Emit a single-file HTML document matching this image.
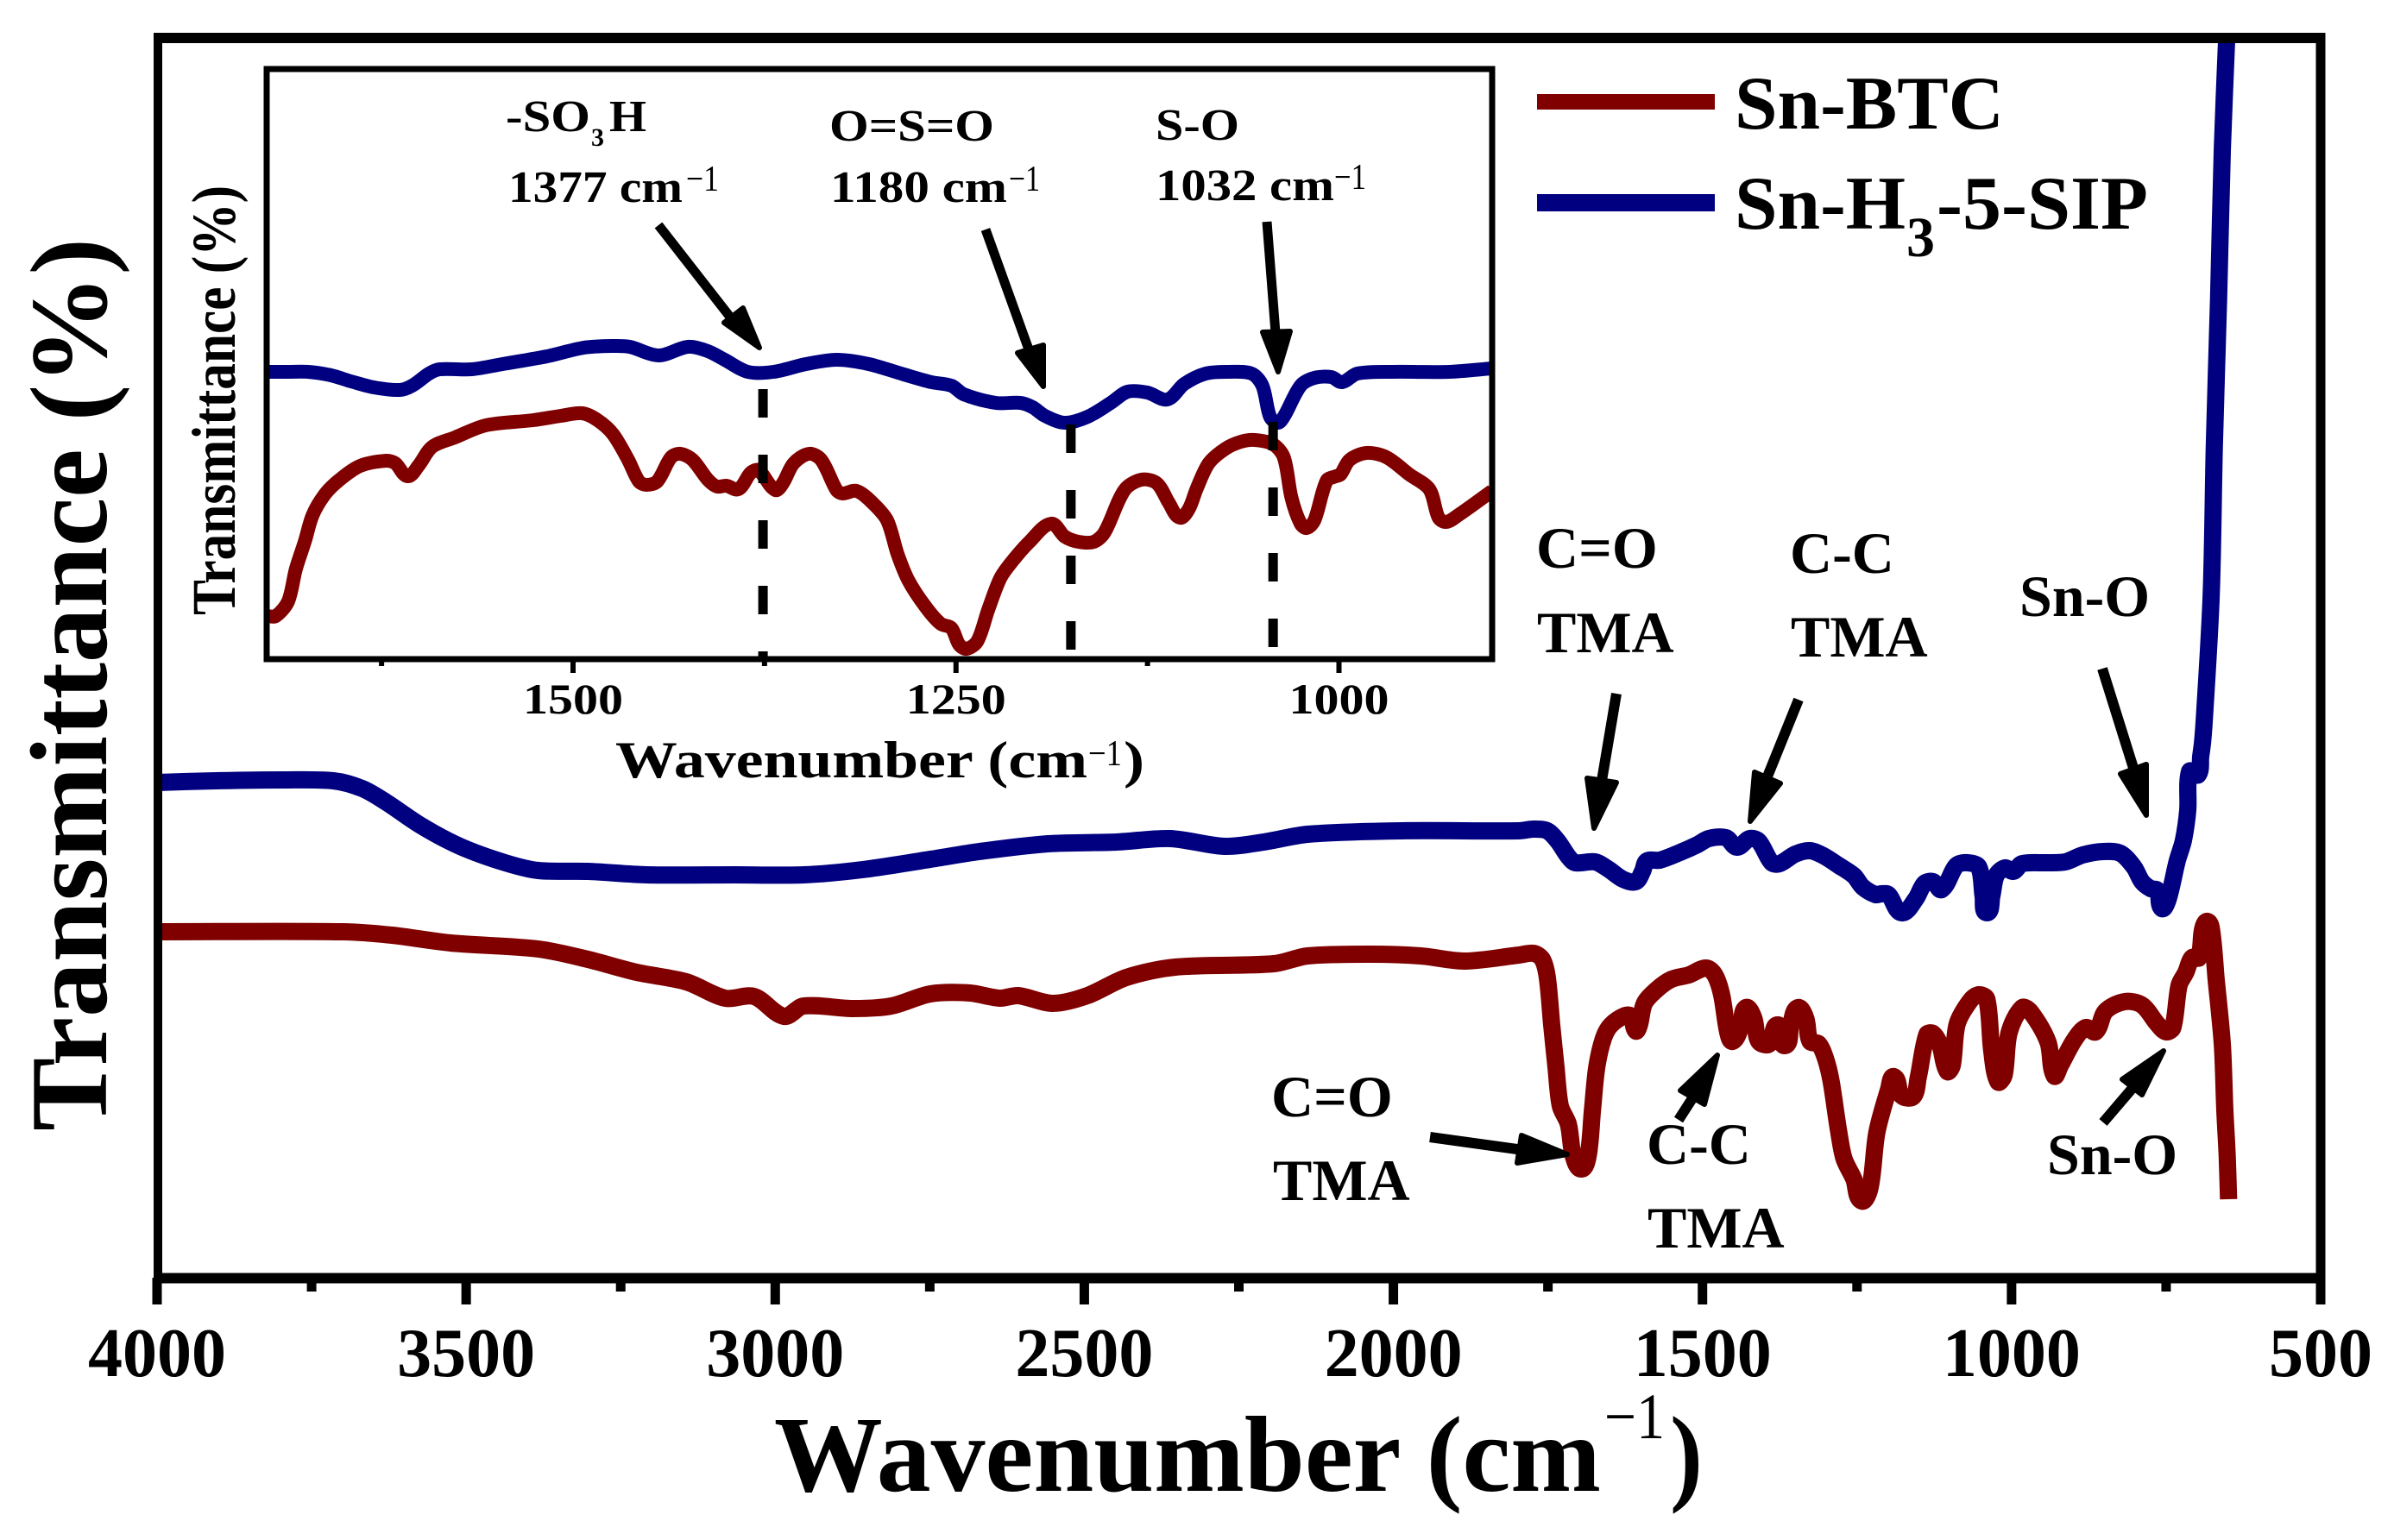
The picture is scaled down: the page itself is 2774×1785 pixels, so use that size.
<!DOCTYPE html>
<html lang="en">
<head>
<meta charset="utf-8">
<title>FTIR spectra of Sn-BTC and Sn-H3-5-SIP</title>
<style>
  html, body { margin: 0; padding: 0; background: #fff; }
  svg { display: block; }
  text { font-family: "Liberation Serif", serif; font-weight: bold; fill: #000; }
</style>
</head>
<body>
<svg id="chart" xmlns="http://www.w3.org/2000/svg" width="2774" height="1785" viewBox="0 0 2774 1785">
  <rect x="0" y="0" width="2774" height="1785" fill="#fff"/>
  <defs>
    <clipPath id="inset-clip"><rect x="309" y="80" width="1420" height="684"/></clipPath>
    <clipPath id="main-clip"><rect x="178" y="44" width="2511" height="1437"/></clipPath>
  </defs>

  <g id="main-series" clip-path="url(#main-clip)"></g>
  <g id="main-axes"></g>

  <g stroke="#000" fill="none">
    <line x1="178" y1="44" x2="2694" y2="44" stroke-width="12"/>
    <line x1="2689" y1="38" x2="2689" y2="1487" stroke-width="11"/>
    <line x1="183" y1="38" x2="183" y2="1487" stroke-width="10"/>
    <line x1="178" y1="1481.5" x2="2694" y2="1481.5" stroke-width="12"/>
  </g>

  <g id="inset-series" clip-path="url(#inset-clip)"></g>
  <g id="inset-dashes"></g>
  <g id="inset-axes"></g>
  <rect x="309" y="80" width="1420" height="684" fill="none" stroke="#000" stroke-width="7"/>

  <text transform="translate(123,1311) rotate(-90)" font-size="127" textLength="1035" lengthAdjust="spacingAndGlyphs">Transmittance (%)</text>
  <text x="897" y="1728" font-size="125" textLength="958" lengthAdjust="spacingAndGlyphs">Wavenumber (cm</text>
  <text x="1859" y="1667" font-size="75" style="font-weight:normal" textLength="70" lengthAdjust="spacingAndGlyphs">−1</text>
  <text x="1935" y="1728" font-size="125" textLength="38" lengthAdjust="spacingAndGlyphs">)</text>

  <text transform="translate(272,713) rotate(-90)" font-size="72" textLength="498" lengthAdjust="spacingAndGlyphs">Transmittance (%)</text>
  <text x="713" y="901" font-size="60" textLength="547" lengthAdjust="spacingAndGlyphs">Wavenumber (cm</text>
  <text x="1261" y="887" font-size="42" style="font-weight:normal" textLength="39" lengthAdjust="spacingAndGlyphs">−1</text>
  <text x="1302" y="901" font-size="60" textLength="24" lengthAdjust="spacingAndGlyphs">)</text>

  <g>
    <rect x="1781" y="109" width="206" height="18" fill="#800000"/>
    <text x="2010" y="149" font-size="88" textLength="312" lengthAdjust="spacingAndGlyphs">Sn-BTC</text>
    <rect x="1781" y="225" width="206" height="20" fill="#000080"/>
    <text x="2010" y="265" font-size="88" textLength="198" lengthAdjust="spacingAndGlyphs">Sn-H</text>
    <text x="2209" y="297" font-size="66">3</text>
    <text x="2244" y="265" font-size="88" textLength="245" lengthAdjust="spacingAndGlyphs">-5-SIP</text>
  </g>

  <g font-size="68">
    <text x="1780" y="658" font-size="68">C=O</text>
    <text x="1781" y="756" font-size="68">TMA</text>
    <text x="2074" y="664" font-size="68">C-C</text>
    <text x="2075" y="761" font-size="68">TMA</text>
    <text x="2340" y="714" font-size="68">Sn-O</text>
    <text x="1473" y="1294" font-size="68">C=O</text>
    <text x="1475" y="1391" font-size="68">TMA</text>
    <text x="1908" y="1349" font-size="68">C-C</text>
    <text x="1909" y="1446" font-size="68">TMA</text>
    <text x="2372" y="1361" font-size="68">Sn-O</text>
  </g>

  <g fill="#000" stroke="#000">
    <g>
      <line x1="1873" y1="804" x2="1856" y2="905" stroke-width="12"/>
      <polygon points="1847,960 1839,902 1873,907" stroke-width="6" stroke-linejoin="round"/>
    </g>
    <g>
      <line x1="2084" y1="811" x2="2048" y2="900" stroke-width="12"/>
      <polygon points="2028,952 2033,895 2063,908" stroke-width="6" stroke-linejoin="round"/>
    </g>
    <g>
      <line x1="2436" y1="775" x2="2472" y2="890" stroke-width="12"/>
      <polygon points="2487,945 2457,897 2487,886" stroke-width="6" stroke-linejoin="round"/>
    </g>
    <g>
      <line x1="1657" y1="1318" x2="1765" y2="1333" stroke-width="12"/>
      <polygon points="1816,1338 1763,1316 1758,1348" stroke-width="6" stroke-linejoin="round"/>
    </g>
    <g>
      <line x1="1945" y1="1298" x2="1963" y2="1270" stroke-width="12"/>
      <polygon points="1990,1223 1947,1264 1975,1280" stroke-width="6" stroke-linejoin="round"/>
    </g>
    <g>
      <line x1="2437" y1="1301" x2="2472" y2="1260" stroke-width="12"/>
      <polygon points="2507,1218 2459,1251 2482,1269" stroke-width="6" stroke-linejoin="round"/>
    </g>
  </g>

  <g>
    <text x="586" y="152" font-size="52" textLength="98" lengthAdjust="spacingAndGlyphs">-SO</text>
    <text x="685" y="169" font-size="30">3</text>
    <text x="706" y="152" font-size="52" textLength="43" lengthAdjust="spacingAndGlyphs">H</text>
    <text x="589" y="234" font-size="52" textLength="202" lengthAdjust="spacingAndGlyphs">1377 cm</text>
    <text x="795" y="221" font-size="42" style="font-weight:normal" textLength="38" lengthAdjust="spacingAndGlyphs">−1</text>
    <text x="961" y="163" font-size="52" textLength="191" lengthAdjust="spacingAndGlyphs">O=S=O</text>
    <text x="962" y="234" font-size="52" textLength="205" lengthAdjust="spacingAndGlyphs">1180 cm</text>
    <text x="1169" y="221" font-size="42" style="font-weight:normal" textLength="36" lengthAdjust="spacingAndGlyphs">−1</text>
    <text x="1339" y="162" font-size="52" textLength="97" lengthAdjust="spacingAndGlyphs">S-O</text>
    <text x="1339" y="232" font-size="52" textLength="207" lengthAdjust="spacingAndGlyphs">1032 cm</text>
    <text x="1546" y="219" font-size="42" style="font-weight:normal" textLength="37" lengthAdjust="spacingAndGlyphs">−1</text>
  </g>

  <g fill="#000" stroke="#000">
    <g>
      <line x1="763" y1="261" x2="848" y2="370" stroke-width="11" />
      <polygon points="880,403 839,374 861,357" stroke-width="6" stroke-linejoin="round"/>
    </g>
    <g>
      <line x1="1142" y1="266" x2="1192" y2="405" stroke-width="11"/>
      <polygon points="1209,448 1179,409 1209,400" stroke-width="6" stroke-linejoin="round"/>
    </g>
    <g>
      <line x1="1468" y1="257" x2="1478" y2="386" stroke-width="11"/>
      <polygon points="1481,431 1463,385 1495,384" stroke-width="6" stroke-linejoin="round"/>
    </g>
  </g>

<script>
// ---- main spectrum data (wavenumber in cm^-1, transmittance in arbitrary offset units) ----
const mainBlueWavenumber = [4000,3905,3795,3715,3668,3629,3573,3510,3437,3383,3303,3208,3066,2954,2859,2749,2670,2559,2448,2361,2273,2210,2139,1988,1797,1773,1751,1734,1717,1706,1674,1653,1629,1608,1597,1590,1569,1536,1508,1490,1462,1444,1424,1409,1388,1375,1350,1326,1304,1280,1255,1241,1220,1211,1199,1178,1155,1141,1127,1113,1089,1071,1053,1046,1040,1032,1025,1011,997,983,941,913,885,852,824,802,789,775,764,757,747,732,722,715,712,698,694,691,688,677,672,665,659,652];
const mainBlueTransmittance = [57.4,57.6,57.7,57.6,56.7,55.1,52.4,50,48.1,47.2,47.1,46.7,46.7,46.7,47.3,48.5,49.4,50.3,50.5,50.9,50,50.5,51.4,51.8,51.8,52,51.8,50.6,48.8,48.1,48.2,47.4,46.2,45.9,47.1,48.3,48.4,49.3,50.2,50.9,51,49.9,50.9,50.6,48.1,48,49.1,49.5,48.9,47.8,46.6,45.3,44.4,44.5,44.4,42.3,43.9,45.7,45.9,45,47.8,48.1,47.6,44.2,42.3,44.2,46.6,47.5,47.1,48,48.1,48.2,49,49.4,49.2,47.6,45.9,45.1,44.9,42.8,43.8,48.3,50.7,54.2,58.7,58.3,60.4,62.1,64.9,79.2,96.4,113.7,130.9,143.6];
const mainRedWavenumber = [4000,3700,3620,3525,3383,3303,3224,3144,3081,3034,2986,2954,2875,2812,2749,2685,2637,2607,2551,2495,2432,2353,2193,2139,2036,1956,1885,1797,1773,1759,1751,1744,1737,1730,1717,1709,1696,1685,1678,1671,1660,1648,1625,1615,1608,1602,1594,1574,1550,1522,1494,1480,1469,1459,1451,1438,1430,1417,1409,1392,1378,1367,1357,1346,1333,1326,1312,1301,1292,1280,1271,1255,1243,1229,1218,1199,1190,1178,1159,1151,1137,1127,1116,1104,1096,1088,1067,1053,1040,1032,1022,1012,1004,983,969,941,931,921,899,880,864,848,817,789,764,750,739,729,718,708,697,691,683,676,669,659,655,651,649];
const mainRedTransmittance = [40.1,40.1,39.7,38.8,38.1,36.9,35.4,34.3,32.4,32.6,30.3,31.5,31.2,31.5,32.9,33,32.4,32.7,31.8,32.7,34.8,36,36.4,37.3,37.5,37.3,36.7,37.4,37.6,36.9,34.8,29.4,24.4,19.9,17.8,14.1,12.6,14.1,19.4,24.4,27.8,29.3,30.4,30.3,28.6,29.3,31.8,33.4,34.6,35.1,35.9,35.1,32.8,28.4,27.4,29.1,31.3,30.1,27.4,27.1,29.3,26.9,29.4,31.3,30.1,27.4,27.1,25.4,22.8,17.1,13.8,11.4,8.9,10.4,16.8,21.8,23.3,21.1,21,23.2,28.2,28.3,27,23.9,24.6,29.4,32.1,32.8,32.3,26.3,22.7,23.5,28.4,31.3,30.8,27.3,23.4,24.6,27.5,29,28.5,30.9,32,31.6,29.4,28.5,29,33.9,35.4,37.1,37.1,40.4,41.3,40.1,34.6,27,19.4,13.9,9.1];

// ---- inset spectrum data ----
const insetBlueWavenumber = [1700,1686,1673,1658,1645,1630,1613,1605,1594,1587,1566,1546,1517,1493,1474,1463,1444,1425,1412,1401,1386,1369,1348,1328,1307,1284,1266,1253,1245,1224,1208,1200,1192,1179,1164,1149,1138,1125,1112,1101,1087,1072,1057,1050,1045,1040,1036,1025,1016,1005,998,988,965,928,900];
const insetBlueTransmittance = [66.6,66.6,66.6,65.8,64.4,63,62.4,63.4,66.2,67.2,67.2,68.4,70.2,72.2,72.6,72.4,70.4,72.4,71.4,69.4,66.6,66.6,68.4,69.4,68.4,66,64.2,63.4,61.4,59.4,59.4,58.4,56.4,54.8,56.2,59.4,62,61.8,60.2,63.8,66.2,66.6,66.2,63.4,56.2,54.8,56.2,63.4,65.2,65.4,64.2,66.2,66.6,66.6,67.4];
const insetRedWavenumber = [1700,1694,1686,1681,1675,1670,1662,1653,1639,1622,1616,1608,1601,1592,1577,1557,1526,1508,1494,1484,1474,1464,1457,1452,1445,1436,1430,1422,1412,1406,1400,1392,1384,1379,1368,1363,1356,1346,1338,1328,1324,1315,1305,1295,1288,1281,1270,1260,1253,1248,1243,1236,1229,1221,1213,1202,1188,1179,1170,1160,1153,1140,1129,1119,1111,1104,1098,1093,1085,1074,1064,1055,1043,1036,1031,1025,1021,1016,1008,1002,999,993,982,969,954,941,935,930,922,900];
const insetRedTransmittance = [10,10,13.4,20.8,27.4,33.4,38.2,41.4,44.8,46,45.4,42.4,44.8,49.2,51.4,54.2,55.4,56.4,57,55.4,52.2,46.2,41.2,40.4,41.2,46.8,47.6,46.2,41.6,40,40.2,39.4,43.2,43.8,39.2,40.8,45.4,47.6,46.2,39.2,38.4,39,36.4,32.2,24.2,18.2,12.2,8.2,7.2,3.4,2.4,4.2,11.4,18.8,22.8,27.2,31.4,28.4,27.2,27.2,29.4,39.2,41.6,40.8,36.2,32.8,34.8,39.4,45.4,48.8,50.4,50.8,49.8,46.8,37.4,31.4,30.4,32.2,41.4,42.4,42.8,46.2,47.8,46.8,42.8,39.4,32.8,31.8,33.4,39];

// ---- tick labels and peak markers ----
const mainMajorTicks = [4000,3500,3000,2500,2000,1500,1000,500];
const mainMinorTicks = [3750,3250,2750,2250,1750,1250,750];
const insetMajorTicks = [1500,1250,1000];
const insetMinorTicks = [1625,1375,1125];
const insetPeakWavenumbers = [1376,1175,1043];
const insetPeakTops = [62.6,54.4,55];

const SVG_NS = 'http://www.w3.org/2000/svg';
const mainX = function (w) { return 182 + (4000 - w) * 2507 / 3500; };
const mainY = function (t) { return 1481 - t * 10; };
const insetX = function (w) { return 309 + (1700 - w) * 1.775; };
const insetY = function (t) { return 764 - t * 5; };

// Smooth curve through the data points: tangents from neighbours, handle length from the segment length.
function pathFor(xs, ys, sx, sy) {
  const px = xs.map(sx);
  const py = ys.map(sy);
  const n = px.length;
  const dirX = [];
  const dirY = [];
  for (let i = 0; i < n; i++) {
    const a = Math.max(i - 1, 0);
    const b = Math.min(i + 1, n - 1);
    const dx = px[b] - px[a];
    const dy = py[b] - py[a];
    const len = Math.hypot(dx, dy) || 1;
    dirX.push(dx / len);
    dirY.push(dy / len);
  }
  let d = 'M' + px[0].toFixed(1) + ' ' + py[0].toFixed(1);
  for (let i = 0; i < n - 1; i++) {
    const seg = Math.hypot(px[i + 1] - px[i], py[i + 1] - py[i]) * 0.3;
    d += 'C' + (px[i] + dirX[i] * seg).toFixed(1) + ' ' + (py[i] + dirY[i] * seg).toFixed(1) + ' ' +
         (px[i + 1] - dirX[i + 1] * seg).toFixed(1) + ' ' + (py[i + 1] - dirY[i + 1] * seg).toFixed(1) + ' ' +
         px[i + 1].toFixed(1) + ' ' + py[i + 1].toFixed(1);
  }
  return d;
}
function makeLine(parent, x1, y1, x2, y2, width) {
  const el = document.createElementNS(SVG_NS, 'line');
  el.setAttribute('x1', x1);
  el.setAttribute('y1', y1);
  el.setAttribute('x2', x2);
  el.setAttribute('y2', y2);
  el.setAttribute('stroke', '#000');
  el.setAttribute('stroke-width', width);
  parent.appendChild(el);
  return el;
}
function makeSeries(parent, xs, ys, sx, sy, color, width) {
  const el = document.createElementNS(SVG_NS, 'path');
  el.setAttribute('d', pathFor(xs, ys, sx, sy));
  el.setAttribute('fill', 'none');
  el.setAttribute('stroke', color);
  el.setAttribute('stroke-width', width);
  el.setAttribute('stroke-linejoin', 'round');
  parent.appendChild(el);
  return el;
}
function makeLabel(parent, x, y, size, length, content) {
  const el = document.createElementNS(SVG_NS, 'text');
  el.setAttribute('x', x);
  el.setAttribute('y', y);
  el.setAttribute('font-size', size);
  el.setAttribute('text-anchor', 'middle');
  el.setAttribute('textLength', length);
  el.setAttribute('lengthAdjust', 'spacingAndGlyphs');
  el.textContent = content;
  parent.appendChild(el);
  return el;
}

const mainSeries = document.getElementById('main-series');
const insetSeries = document.getElementById('inset-series');
const insetDashes = document.getElementById('inset-dashes');
const mainAxes = document.getElementById('main-axes');
const insetAxes = document.getElementById('inset-axes');

const mainBlue = makeSeries(mainSeries, mainBlueWavenumber, mainBlueTransmittance, mainX, mainY, '#000080', 20);


const mainRed = makeSeries(mainSeries, mainRedWavenumber, mainRedTransmittance, mainX, mainY, '#800000', 20);


const insetBlue = makeSeries(insetSeries, insetBlueWavenumber, insetBlueTransmittance, insetX, insetY, '#000080', 16);


const insetRed = makeSeries(insetSeries, insetRedWavenumber, insetRedTransmittance, insetX, insetY, '#800000', 16);



insetPeakWavenumbers.forEach(function (w, i) {
  const x = insetX(w);
  const el = makeLine(insetDashes, x, insetY(insetPeakTops[i]), x, 764, 11);
  el.setAttribute('stroke-dasharray', '33 43');
  
  
});

mainMajorTicks.forEach(function (w) {
  const x = mainX(w);
  const tick = makeLine(mainAxes, x, 1481, x, 1512, 11);
  
  
  const text = String(w);
  const label = makeLabel(mainAxes, x, 1595, 80, text.length * 40, text);
  
  
});
mainMinorTicks.forEach(function (w) {
  const x = mainX(w);
  const tick = makeLine(mainAxes, x, 1481, x, 1497, 11);
  
  
});
insetMajorTicks.forEach(function (w) {
  const x = insetX(w);
  const tick = makeLine(insetAxes, x, 764, x, 780, 6);
  
  
  const label = makeLabel(insetAxes, x, 827, 50, 116, String(w));
  
  
});
insetMinorTicks.forEach(function (w) {
  const x = insetX(w);
  const tick = makeLine(insetAxes, x, 764, x, 772, 6);
  
  
});
</script>
</svg>
</body>
</html>
